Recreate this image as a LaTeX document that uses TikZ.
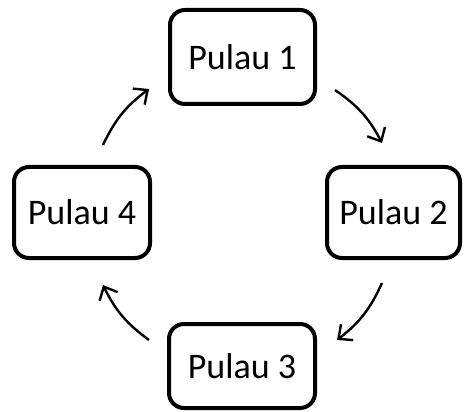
\documentclass[tikz,border=0pt]{standalone}
\usepackage{fontspec}
\setmainfont{Carlito}
\usetikzlibrary{arrows.meta}
\begin{document}
\begin{tikzpicture}[x=1pt,y=-1pt,
  island/.style={draw=black,line width=4pt,rounded corners=15pt,inner sep=0pt,
    font=\fontsize{36}{40}\selectfont},
  flow/.style={line width=2.4pt,-{Straight Barb[length=11pt,width=20pt,line width=2.4pt]},bend left=14}]
\path[use as bounding box] (0,0) rectangle (464,412);
\node[island,minimum width=145pt,minimum height=94pt] (p1) at (242.5,57) {Pulau 1};
\node[island,minimum width=133pt,minimum height=91pt] (p2) at (393.5,212.5) {Pulau 2};
\node[island,minimum width=146pt,minimum height=84pt] (p3) at (242,366) {Pulau 3};
\node[island,minimum width=136pt,minimum height=91pt] (p4) at (82,212.5) {Pulau 4};
\coordinate (a1s) at (103,145); \coordinate (a1e) at (149,89);
\coordinate (a2s) at (335,90);  \coordinate (a2e) at (382,143);
\coordinate (a3s) at (382,283); \coordinate (a3e) at (337,340);
\coordinate (a4s) at (149,340); \coordinate (a4e) at (103,285);
\draw[flow] (a1s) to (a1e);
\draw[flow] (a2s) to (a2e);
\draw[flow] (a3s) to (a3e);
\draw[flow] (a4s) to (a4e);
\end{tikzpicture}
\end{document}
